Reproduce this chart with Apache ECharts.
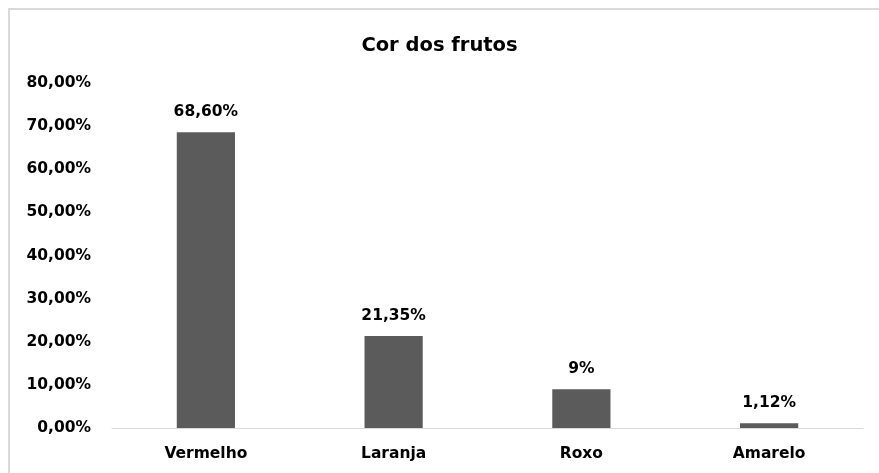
<!DOCTYPE html>
<html>
<head>
<meta charset="utf-8">
<script src="https://cdn.jsdelivr.net/npm/echarts@6/dist/echarts.min.js"></script>
<style>
  html, body { margin: 0; padding: 0; background: #fff; }
  #chart-div { width: 879px; height: 473px; }
</style>
</head>
<body>
<div id="chart-div"></div>
<script>
// dados do gráfico
const categorias = ['Vermelho', 'Laranja', 'Roxo', 'Amarelo']
const valores = [68.6, 21.35, 9, 1.12]
const rotulos = ['68,60%', '21,35%', '9%', '1,12%']

const fonte = 'DejaVu Sans'

let myChart = echarts.init(document.getElementById('chart-div'))

const option = {
    animation: false,
    title: {
        text: 'Cor dos frutos',
        left: 'center',
        top: 31,
        textStyle: { fontFamily: fonte, fontSize: 19.5, fontWeight: 'bold', color: '#000' }
    },
    graphic: [{
        type: 'rect',
        shape: { x: 9, y: 9, width: 900, height: 520 },
        style: { fill: 'none', stroke: '#d9d9d9', lineWidth: 2 },
        silent: true
    }],
    grid: { left: 112, right: 16, top: 83, bottom: 45 },
    xAxis: {
        type: 'category',
        data: categorias,
        axisLine: { lineStyle: { color: '#d9d9d9', width: 1 } },
        axisTick: { show: false },
        axisLabel: { margin: 18, fontFamily: fonte, fontSize: 15.5, fontWeight: 'bold', color: '#000' }
    },
    yAxis: {
        type: 'value',
        min: 0,
        max: 80,
        interval: 10,
        splitLine: { show: false },
        axisLine: { show: false },
        axisTick: { show: false },
        axisLabel: {
            margin: 21,
            fontFamily: fonte, fontSize: 15.5, fontWeight: 'bold', color: '#000',
            formatter: v => v.toFixed(2).replace('.', ',') + '%'
        }
    },
    series: [{
        type: 'bar',
        data: valores,
        barWidth: '31%',
        itemStyle: { color: '#5b5b5b' },
        label: {
            show: true,
            position: 'top',
            distance: 12,
            fontFamily: fonte, fontSize: 15.5, fontWeight: 'bold', color: '#000',
            formatter: p => rotulos[p.dataIndex]
        }
    }]
}

myChart.setOption(option)
</script>
</body>
</html>
